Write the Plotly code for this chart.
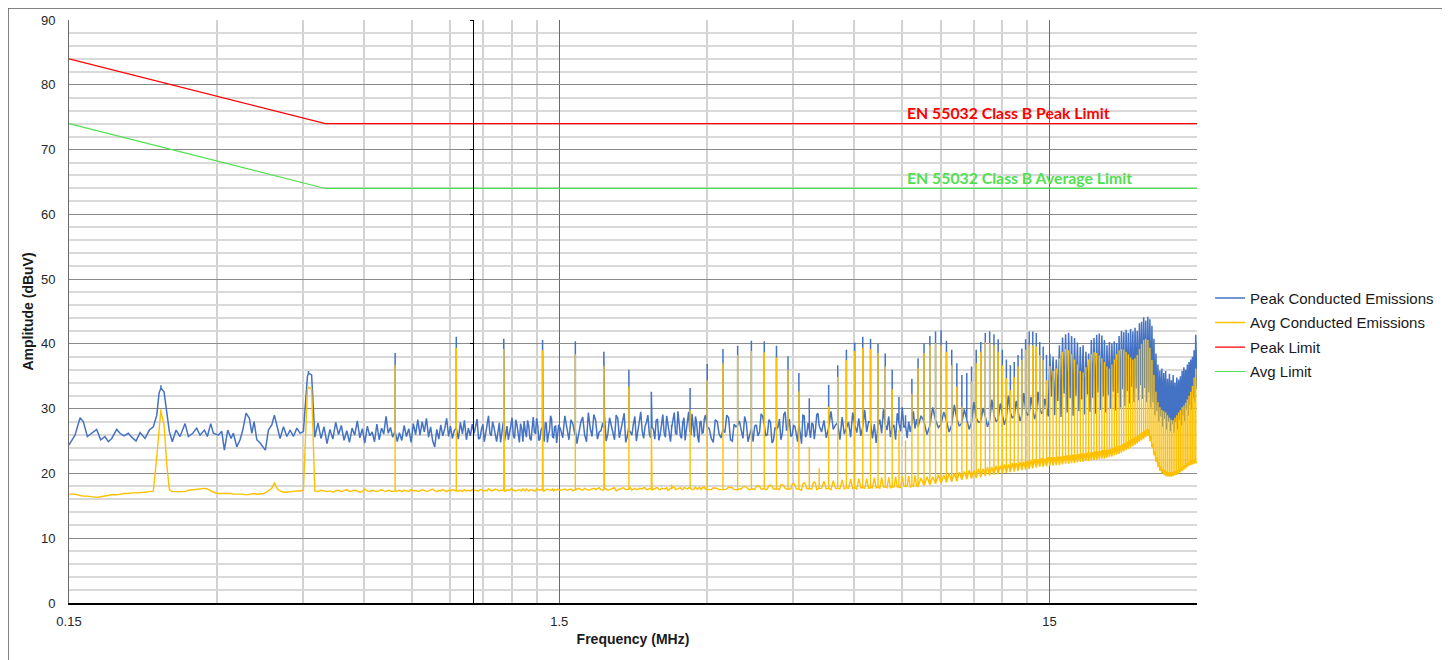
import math
import plotly.graph_objects as go

# ---------------- data ----------------
# Harmonic frequencies of the switching converter (MHz)
harm_mhz = [
    0.231, 0.462, 0.694, 0.925, 1.156, 1.387, 1.618, 1.850, 2.081, 2.312,
    2.543, 2.774, 3.006, 3.237, 3.468, 3.699, 3.930, 4.162, 4.393, 4.624,
    4.855, 5.086, 5.318, 5.549, 5.780, 6.011, 6.242, 6.474, 6.705, 6.936,
    7.167, 7.398, 7.630, 7.861, 8.092, 8.323, 8.554, 8.786, 9.017, 9.248,
    9.479, 9.710, 9.942, 10.173, 10.404, 10.635, 10.866, 11.098, 11.329, 11.560,
    11.791, 12.022, 12.254, 12.485, 12.716, 12.947, 13.178, 13.410, 13.641, 13.872,
    14.103, 14.334, 14.566, 14.797, 15.028, 15.259, 15.490, 15.722, 15.953, 16.184,
    16.415, 16.646, 16.878, 17.109, 17.340, 17.571, 17.802, 18.034, 18.265, 18.496,
    18.727, 18.958, 19.190, 19.421, 19.652, 19.883, 20.114, 20.346, 20.577, 20.808,
    21.039, 21.270, 21.502, 21.733, 21.964, 22.195, 22.426, 22.658, 22.889, 23.120,
    23.351, 23.582, 23.814, 24.045, 24.276, 24.507, 24.738, 24.970, 25.201, 25.432,
    25.663, 25.894, 26.126, 26.357, 26.588, 26.819, 27.050, 27.282, 27.513, 27.744,
    27.975, 28.206, 28.438, 28.669, 28.900, 29.131, 29.362, 29.594, 29.825,
]
# Peak detector: harmonic tops and the level at the foot of each harmonic (dBuV);
# None = the harmonic has no separate foot (dense region, skirts merge)
peak_harm_dbuv = [
    33.6, 35.8, 38.6, 41.1, 40.8, 40.6, 40.4, 38.8, 36.0, 32.6,
    27.5, 33.2, 36.9, 39.2, 39.7, 40.5, 40.4, 39.7, 38.1, 35.5,
    31.6, 28.5, 33.7, 36.7, 39.1, 40.2, 41.1, 40.8, 40.0, 38.5,
    36.0, 31.8, 29.0, 34.6, 37.8, 40.1, 41.2, 41.9, 42.1, 40.5,
    39.1, 37.0, 35.2, 35.5, 36.5, 39.1, 40.3, 41.7, 41.9, 41.5,
    40.7, 39.1, 37.6, 36.7, 37.2, 38.3, 39.3, 40.7, 41.9, 41.9,
    41.7, 40.3, 39.6, 38.3, 38.5, 38.0, 37.6, 39.8, 41.0, 41.5,
    41.7, 41.2, 40.9, 40.2, 39.5, 39.8, 38.8, 38.5, 40.6, 40.9,
    41.4, 41.6, 41.3, 40.6, 39.8, 40.3, 40.0, 40.4, 40.1, 41.2,
    42.0, 41.8, 42.2, 41.7, 42.3, 41.9, 42.5, 42.0, 43.2, 43.4,
    44.1, 43.6, 44.2, 43.8, 42.8, 40.8, 38.5, 36.8, 35.9, 36.2,
    35.5, 35.8, 34.6, 35.4, 34.4, 35.2, 34.0, 34.8, 34.5, 35.0,
    35.8, 36.4, 36.0, 36.8, 37.2, 37.6, 38.0, 39.0, 41.4,
]
peak_harm_base = [
    33.2, 35.5, 26.5, 27.0, 26.4, 27.2, 26.8, 27.0, 26.6, 27.3,
    26.9, 27.1, 27.2, 26.8, 27.4, 27.0, 27.5, 26.9, 27.3, 27.6,
    26.8, 27.4, 27.1, 27.8, 27.0, 27.5, 27.2, 27.9, 27.3, 27.6,
    27.0, 27.8, 27.4, 27.7, 27.2, 28.0, 27.4, 28.2, 27.6, 28.1,
    27.5, 28.4, 27.8, 28.3, 27.9, 28.6, 28.0, 28.8, 28.2, 29.0,
    28.4, 29.2, 28.6, 29.4, 28.8, 29.6, 29.0, 29.8, 29.1, 30.0,
    29.3, 30.1, 29.5, 30.2, None, None, None, None, None, None,
    None, None, None, None, None, None, None, None, None, None,
    None, None, None, None, None, None, None, None, None, None,
    None, None, None, None, None, None, None, None, None, None,
    None, None, None, None, None, None, None, None, None, None,
    None, None, None, None, None, None, None, None, None, None,
    None, None, None, None, None, None, None, None, None,
]
# Average detector: harmonic tops and foot levels (dBuV)
avg_harm_dbuv = [
    29.9, 33.4, 36.7, 39.4, 39.2, 39.0, 38.4, 36.6, 33.4, 27.0,
    18.3, 29.8, 34.4, 37.0, 38.3, 38.9, 38.7, 37.9, 36.0, 32.7,
    24.1, 20.8, 30.3, 34.9, 37.5, 38.9, 39.4, 39.2, 38.6, 36.5,
    33.0, 26.7, 25.1, 32.3, 36.3, 38.6, 39.8, 40.1, 39.8, 38.8,
    36.7, 33.4, 30.3, 27.8, 34.2, 37.0, 38.8, 40.2, 40.1, 39.8,
    38.8, 36.7, 34.7, 32.9, 34.9, 36.5, 37.5, 39.1, 39.9, 39.8,
    39.6, 38.3, 37.5, 34.4, 36.6, 35.8, 36.2, 37.8, 38.8, 39.2,
    39.0, 38.4, 37.6, 36.8, 35.8, 35.6, 36.4, 37.6, 38.4, 38.7,
    38.6, 38.2, 37.8, 37.2, 36.5, 36.2, 36.8, 37.6, 38.4, 39.0,
    39.2, 39.1, 38.8, 38.4, 37.9, 37.6, 37.8, 38.3, 39.2, 40.0,
    40.6, 40.8, 40.6, 39.4, 37.5, 35.2, 32.6, 31.0, 30.2, 29.8,
    29.6, 29.4, 29.0, 28.6, 28.3, 28.2, 28.6, 29.0, 29.4, 29.8,
    30.2, 30.5, 30.9, 31.4, 32.0, 32.6, 33.5, 34.8, 36.2,
]
avg_harm_base = [
    29.5, 33.3, 17.3, 17.3, 17.4, 17.4, 17.4, 17.5, 17.5, 17.5,
    17.6, 17.6, 17.5, 17.5, 17.5, 17.6, 17.6, 17.6, 17.6, 17.6,
    17.7, 17.7, 17.7, 17.7, 17.8, 17.8, 17.8, 17.8, 17.9, 17.9,
    17.9, 17.9, 18.0, 18.0, 18.0, 18.1, 18.2, 18.4, 18.5, 18.6,
    18.7, 18.8, 19.0, 19.1, 19.2, 19.3, 19.4, 19.6, 19.7, 19.8,
    19.9, 20.0, 20.1, 20.2, 20.3, 20.4, 20.5, 20.6, 20.7, 20.8,
    20.9, 21.0, 21.0, 21.1, 21.2, 21.2, 21.3, 21.3, 21.4, 21.5,
    21.5, 21.6, 21.6, 21.7, 21.8, 21.8, 21.9, 21.9, 22.0, 22.1,
    22.1, 22.2, 22.3, 22.3, 22.4, 22.5, 22.6, 22.8, 22.9, 23.0,
    23.2, 23.4, 23.6, 23.8, 24.0, 24.2, 24.4, 24.6, 24.9, 25.1,
    25.3, 25.6, 25.8, 25.0, 24.0, 22.8, 21.8, 21.0, 20.4, 20.0,
    19.8, 19.6, 19.5, 19.5, 19.5, 19.6, 19.7, 19.8, 20.0, 20.2,
    20.4, 20.6, 20.8, 21.0, 21.2, 21.3, 21.4, 21.5, 21.6,
]

# Emission floor between harmonics (MHz); points are sorted by frequency when drawn
floor_mhz = [
    0.150, 0.1543, 0.1580, 0.1604, 0.1635, 0.1669, 0.1708, 0.1741, 0.1776, 0.1804,
    0.1833, 0.1877, 0.1906, 0.1942, 0.1982, 0.2014, 0.2055, 0.2094, 0.2144, 0.2188,
    0.2229, 0.2265, 0.2290, 0.2344, 0.2374, 0.2403, 0.2437, 0.2480, 0.2527, 0.2587,
    0.2628, 0.2683, 0.2733, 0.2776, 0.2833, 0.2873, 0.2919, 0.2955, 0.3025, 0.3074,
    0.3112, 0.3162, 0.3211, 0.3246, 0.3299, 0.3350, 0.3393, 0.3446, 0.3500, 0.3540,
    0.3578, 0.3624, 0.3681, 0.3738, 0.3773, 0.3827, 0.3889, 0.3936, 0.3992, 0.4043,
    0.4107, 0.4173, 0.4238, 0.4304, 0.4374, 0.4442, 0.4511, 0.4597, 0.4688,
    0.476, 0.483, 0.490, 0.497, 0.504, 0.511, 0.518, 0.525, 0.532, 0.539,
    0.546, 0.553, 0.560, 0.567, 0.574, 0.581, 0.588, 0.595, 0.602, 0.609,
    0.616, 0.623, 0.630, 0.637, 0.644, 0.651, 0.658, 0.665, 0.672, 0.679,
    0.686, 0.701, 0.708,
    0.716, 0.724, 0.732, 0.740, 0.748, 0.756, 0.764, 0.772, 0.780, 0.788,
    0.796, 0.804, 0.812, 0.820, 0.828, 0.836, 0.844, 0.852, 0.860, 0.868,
    0.876, 0.884, 0.892, 0.900, 0.908, 0.916,
    0.934, 0.943, 0.952, 0.961, 0.970, 0.979, 0.988, 0.997,
    1.006, 1.020, 1.034, 1.048, 1.062, 1.076, 1.090, 1.104, 1.118, 1.132,
    1.146, 1.160, 1.174, 1.188, 1.202, 1.216, 1.230, 1.244, 1.258, 1.272,
    1.286, 1.300, 1.314, 1.328, 1.342, 1.356, 1.370, 1.384, 1.398, 1.412,
    1.426, 1.440, 1.454, 1.468, 1.482, 1.496,
    1.51, 1.54, 1.57, 1.60, 1.63, 1.66, 1.69, 1.72, 1.75, 1.78,
    1.81, 1.84, 1.87, 1.90, 1.93, 1.96, 1.99, 2.02, 2.05, 2.08,
    2.11, 2.14, 2.17, 2.20, 2.23, 2.26, 2.29, 2.32, 2.35, 2.38,
    2.41, 2.44, 2.47, 2.50, 2.53, 2.56, 2.59, 2.62, 2.65, 2.68,
    2.71, 2.74, 2.77, 2.80, 2.83, 2.86, 2.89, 2.92, 2.95, 2.98,
    3.064, 3.122, 3.179, 3.295, 3.353, 3.410, 3.526, 3.584, 3.641,
    3.757, 3.815, 3.872, 3.988, 4.046, 4.103, 4.220, 4.278, 4.335,
    4.451, 4.509, 4.566, 4.682, 4.740, 4.797, 4.913, 4.971, 5.028,
    5.144, 5.202, 5.259, 5.376, 5.434, 5.491, 5.607, 5.665, 5.722,
    5.838, 5.896, 5.953, 6.069, 6.127, 6.184, 6.300, 6.358, 6.415,
    6.532, 6.590, 6.647, 6.763, 6.821, 6.878, 6.994, 7.052, 7.109,
    7.225, 7.283, 7.340, 7.456, 7.514, 7.571, 7.688, 7.746, 7.803,
    7.919, 7.977, 8.034,
    8.208, 8.439, 8.670, 8.902, 9.133, 9.364, 9.595, 9.826, 10.058, 10.289,
    10.520, 10.751, 10.982, 11.214, 11.445, 11.676, 11.907, 12.138, 12.370, 12.601,
    12.832, 13.063, 13.294, 13.526, 13.757, 13.988, 14.219, 14.450, 14.682, 14.913,
    15.144, 15.375, 15.606, 15.838, 16.069, 16.300, 16.531, 16.762, 16.994, 17.225,
    17.456, 17.687, 17.918, 18.150, 18.381, 18.612, 18.843, 19.074, 19.306, 19.537,
    19.768, 19.999, 20.230, 20.462, 20.693, 20.924, 21.155, 21.386, 21.618, 21.849,
    22.080, 22.311, 22.542, 22.774, 23.005, 23.236, 23.467, 23.698, 23.930, 24.161,
    24.392, 24.623, 24.854, 25.086, 25.317, 25.548, 25.779, 26.010, 26.242, 26.473,
    26.704, 26.935, 27.166, 27.398, 27.629, 27.860, 28.091, 28.322, 28.554, 28.785,
    29.016, 29.247, 29.478, 29.710, 30.0,
    # finer readings, 1 - 5 MHz
    1.013, 1.027, 1.041, 1.055, 1.069, 1.083, 1.097, 1.111, 1.125, 1.139,
    1.153, 1.167, 1.181, 1.195, 1.209, 1.223, 1.237, 1.251, 1.265, 1.279,
    1.293, 1.307, 1.321, 1.335, 1.349, 1.363, 1.377, 1.391, 1.405, 1.419,
    1.433, 1.447, 1.461, 1.475, 1.489,
    1.525, 1.555, 1.585, 1.615, 1.645, 1.675, 1.705, 1.735, 1.765, 1.795,
    1.825, 1.855, 1.885, 1.915, 1.945, 1.975, 2.005, 2.035, 2.065, 2.095,
    2.125, 2.155, 2.185, 2.215, 2.245, 2.275, 2.305, 2.335, 2.365, 2.395,
    2.425, 2.455, 2.485, 2.515, 2.545, 2.575, 2.605, 2.635, 2.665, 2.695,
    2.725, 2.755, 2.785, 2.815, 2.845, 2.875, 2.905, 2.935, 2.965,
    3.035, 3.093, 3.151, 3.208, 3.266, 3.324, 3.382, 3.439,
    3.497, 3.555, 3.613, 3.670, 3.728, 3.786, 3.844, 3.901,
    3.959, 4.017, 4.075, 4.132, 4.191, 4.249, 4.307, 4.364,
    4.422, 4.480, 4.538, 4.595, 4.653, 4.711, 4.769, 4.826,
    4.884, 4.942, 5.000, 5.057,
]
peak_floor_dbuv = [
    24.4, 25.9, 28.6, 28.0, 25.7, 26.2, 26.8, 25.2, 25.7, 24.9,
    25.4, 26.8, 26.2, 25.8, 26.2, 25.6, 25.0, 26.3, 25.4, 26.7,
    27.2, 29.0, 32.4, 32.6, 29.3, 26.5, 24.9, 26.7, 25.7, 27.7,
    25.7, 26.2, 27.0, 25.9, 26.7, 25.7, 27.7, 26.2, 25.9, 26.5,
    23.6, 26.7, 25.4, 26.2, 24.1, 25.2, 26.7, 29.3, 28.5, 26.2,
    28.0, 25.2, 24.7, 24.1, 23.6, 26.7, 27.5, 29.0, 27.2, 25.4,
    27.2, 25.7, 26.7, 25.7, 27.0, 26.2, 26.5, 35.0, 35.2,
    25.6, 27.8, 25.4, 27.2, 24.6, 26.8, 25.3, 27.9, 26.0, 27.4,
    25.1, 26.6, 24.8, 27.0, 25.9, 28.1, 25.5, 26.9, 24.7, 27.3,
    25.8, 26.4, 24.9, 27.6, 25.2, 27.0, 26.1, 28.8, 26.2, 27.1,
    25.6, 24.9, 26.3,
    25.1, 27.4, 25.7, 26.9, 24.8, 27.7, 26.0, 28.3, 25.9, 28.0,
    26.4, 28.5, 25.6, 27.2, 25.0, 24.1, 26.8, 25.3, 27.5, 25.8,
    26.9, 28.5, 25.7, 27.3, 25.4, 26.6,
    25.3, 27.9, 26.1, 28.2, 25.2, 27.0, 25.8, 27.6,
    26.2, 28.4, 25.5, 27.6, 26.0, 28.9, 25.8, 27.1, 24.9, 27.8,
    26.3, 25.0, 27.3, 26.1, 28.6, 25.4, 27.5, 24.8, 26.9, 28.1,
    25.6, 27.3, 25.1, 28.7, 26.2, 27.4, 25.3, 27.0, 24.9, 27.7,
    26.0, 28.9, 25.6, 27.2, 24.7, 27.5,
    26.8, 28.9, 25.2, 27.6, 24.6, 27.9, 26.0, 29.4, 25.7, 28.2,
    26.4, 27.8, 25.0, 28.6, 26.3, 29.0, 25.5, 27.7, 24.8, 27.2,
    25.9, 28.8, 26.6, 29.5, 25.4, 27.9, 26.1, 27.2, 25.3, 28.4,
    26.0, 29.1, 25.6, 27.7, 24.9, 28.3, 26.2, 29.6, 25.8, 27.9,
    25.1, 28.5, 26.4, 29.2, 25.6, 27.8, 24.8, 28.1, 26.3, 29.0,
    25.4, 28.3, 26.1, 29.0, 25.2, 27.6, 26.5, 28.8, 24.9,
    27.3, 25.8, 29.2, 26.0, 27.9, 25.1, 28.4, 26.2, 29.5,
    25.7, 27.4, 26.3, 24.6, 28.9, 26.0, 27.8, 25.3, 29.1,
    26.4, 28.2, 25.5, 29.6, 26.8, 27.5, 25.2, 28.7, 26.1,
    27.9, 25.6, 29.4, 26.3, 28.5, 25.8, 29.8, 26.4, 28.0,
    25.4, 27.6, 24.7, 28.3, 26.2, 29.9, 26.7, 28.8, 25.6,
    27.5, 25.2, 29.3, 26.5, 30.2, 27.1, 25.5, 28.0, 26.4,
    29.6, 26.9, 28.4,
    28.9, 26.0, 30.2, 27.1, 29.5, 26.4, 30.6, 27.3, 29.9, 26.8,
    31.0, 27.9, 30.1, 27.2, 31.4, 28.0, 30.8, 27.5, 32.0, 28.6,
    31.2, 28.1, 32.4, 29.0, 31.8, 28.4, 32.6, 29.3, 31.5, 28.8,
    31.9, 29.0, 31.2, 28.7, 32.3, 29.4, 31.6, 28.9, 32.0, 29.6,
    31.4, 29.1, 32.2, 29.5, 31.7, 29.2, 32.5, 29.8, 31.9, 29.4,
    32.1, 30.0, 32.6, 29.7, 32.4, 30.2, 33.0, 30.4, 32.7, 30.8,
    33.4, 31.0, 33.1, 31.3, 33.6, 31.5, 33.2, 31.0, 32.5, 30.2,
    31.0, 29.0, 29.6, 28.0, 28.8, 27.2, 28.4, 26.8, 28.0, 26.5,
    27.6, 26.3, 27.9, 26.8, 28.3, 27.4, 29.0, 28.1, 29.8, 28.9,
    30.6, 29.8, 31.6, 31.0, 33.0,
    27.1, 25.3, 26.8, 24.9, 27.5, 26.2, 28.0, 25.6, 26.4, 24.8,
    27.9, 26.0, 25.2, 27.4, 25.9, 28.3, 26.1, 27.7, 24.9, 26.5,
    28.2, 25.4, 27.0, 26.3, 28.5, 25.1, 26.7, 25.8, 27.9, 24.8,
    26.6, 28.4, 25.5, 27.3, 26.0,
    25.5, 26.9, 28.3, 25.9, 26.2, 28.7, 24.9, 27.0, 29.1, 25.3,
    26.6, 28.9, 26.1, 27.4, 25.2, 28.5, 26.8, 29.3, 25.7, 26.4,
    27.6, 25.0, 28.7, 26.5, 27.3, 29.0, 25.5, 26.8, 28.2, 25.1,
    27.5, 26.3, 28.9, 25.8, 27.1, 29.4, 26.0, 27.3, 25.4, 28.6,
    26.7, 29.5, 25.9, 27.2, 28.8, 25.6, 27.9, 26.2, 28.4,
    26.9, 24.8, 28.0, 25.5, 26.3, 28.6, 25.0, 27.2,
    28.1, 25.4, 27.7, 26.0, 24.9, 27.5, 26.4, 28.8,
    25.8, 28.3, 24.7, 27.0, 27.1, 25.2, 29.1, 26.6,
    28.4, 25.9, 27.3, 24.9, 26.2, 29.0, 25.6, 27.8,
    25.5, 27.6, 26.9, 29.3,
]
avg_floor_dbuv = [
    16.8, 16.8, 16.6, 16.5, 16.5, 16.4, 16.3, 16.4, 16.5, 16.6,
    16.7, 16.7, 16.8, 16.9, 16.9, 17.0, 17.0, 17.0, 17.1, 17.2,
    17.3, 22.5, 27.0, 27.5, 21.5, 17.5, 17.2, 17.2, 17.2, 17.2,
    17.4, 17.5, 17.5, 17.6, 17.7, 17.6, 17.3, 17.1, 16.9, 16.9,
    16.9, 17.0, 16.9, 16.8, 16.8, 16.9, 16.8, 16.7, 16.8, 16.9,
    16.9, 16.8, 16.8, 16.9, 17.0, 17.3, 17.7, 18.6, 17.6, 17.3,
    17.1, 17.1, 17.2, 17.2, 17.3, 17.3, 17.4, 33.0, 33.0,
    17.3, 17.2, 17.4, 17.3, 17.2, 17.3, 17.1, 17.3, 17.4, 17.2,
    17.3, 17.5, 17.2, 17.3, 17.4, 17.3, 17.1, 17.2, 17.6, 17.3,
    17.2, 17.4, 17.3, 17.2, 17.3, 17.5, 17.3, 17.2, 17.4, 17.3,
    17.2, 17.3, 17.4,
    17.2, 17.4, 17.3, 17.2, 17.5, 17.3, 17.4, 17.2, 17.3, 17.5,
    17.4, 17.2, 17.3, 17.4, 17.6, 17.3, 17.2, 17.4, 17.3, 17.5,
    17.3, 17.2, 17.4, 17.3, 17.5, 17.4,
    17.3, 17.4, 17.2, 17.5, 17.3, 17.4, 17.3, 17.5,
    17.4, 17.3, 17.5, 17.3, 17.4, 17.6, 17.3, 17.4, 17.5, 17.3,
    17.4, 17.3, 17.5, 17.4, 17.6, 17.3, 17.4, 17.5, 17.3, 17.4,
    17.6, 17.3, 17.5, 17.4, 17.3, 17.5, 17.4, 17.6, 17.3, 17.4,
    17.5, 17.4, 17.6, 17.5, 17.4, 17.5,
    17.4, 17.6, 17.5, 17.3, 17.6, 17.5, 17.7, 17.4, 17.6, 17.5,
    17.8, 17.4, 17.6, 17.5, 17.7, 17.3, 17.6, 17.8, 17.5, 17.6,
    17.4, 17.7, 17.5, 17.6, 17.8, 17.5, 17.7, 17.4, 17.6, 17.8,
    17.5, 17.7, 17.6, 17.4, 17.7, 17.9, 17.5, 17.6, 17.8, 17.5,
    17.7, 17.6, 17.9, 17.5, 17.7, 17.6, 17.8, 17.5, 17.9, 17.6,
    17.5, 17.8, 17.5, 17.6, 17.9, 17.5, 17.6, 18.0, 17.6,
    17.5, 18.1, 17.6, 17.6, 18.2, 17.6, 17.5, 18.3, 17.7,
    17.6, 18.5, 17.6, 17.4, 18.6, 17.7, 17.6, 18.7, 17.5,
    17.7, 18.8, 17.6, 17.5, 18.9, 17.7, 17.6, 19.0, 17.6,
    17.7, 19.1, 17.7, 17.6, 19.2, 17.8, 17.7, 19.2, 17.7,
    17.8, 19.3, 17.8, 17.7, 19.4, 17.9, 17.8, 19.4, 17.8,
    17.9, 19.5, 17.9, 17.8, 19.6, 18.0, 18.0, 19.6, 17.9,
    18.0, 19.7, 18.1,
    19.3, 19.5, 19.5, 19.8, 19.8, 20.0, 20.0, 20.2, 20.3, 20.5,
    20.5, 20.7, 20.7, 21.0, 21.0, 21.2, 21.2, 21.4, 21.4, 21.6,
    21.6, 21.8, 21.8, 22.0, 22.0, 22.2, 22.2, 22.4, 22.3, 22.5,
    22.5, 22.5, 22.6, 22.6, 22.7, 22.8, 22.8, 22.9, 22.9, 23.0,
    23.1, 23.1, 23.2, 23.2, 23.3, 23.4, 23.4, 23.5, 23.6, 23.6,
    23.7, 23.8, 23.9, 24.1, 24.2, 24.3, 24.5, 24.7, 24.9, 25.1,
    25.3, 25.5, 25.7, 25.9, 26.2, 26.4, 26.6, 26.8, 26.8, 25.8,
    24.6, 23.4, 22.5, 21.7, 21.1, 20.7, 20.5, 20.3, 20.2, 20.2,
    20.2, 20.3, 20.4, 20.5, 20.7, 20.9, 21.1, 21.3, 21.5, 21.7,
    21.9, 22.0, 22.1, 22.2, 21.8,
    17.4, 17.3, 17.5, 17.4, 17.3, 17.5, 17.4, 17.6, 17.3, 17.4,
    17.5, 17.3, 17.4, 17.6, 17.4, 17.3, 17.5, 17.4, 17.6, 17.3,
    17.4, 17.5, 17.4, 17.3, 17.6, 17.4, 17.5, 17.3, 17.4, 17.6,
    17.5, 17.4, 17.3, 17.5, 17.6,
    17.5, 17.4, 17.6, 17.5, 17.7, 17.4, 17.6, 17.5, 17.7, 17.6,
    17.5, 17.7, 17.4, 17.6, 17.8, 17.5, 17.6, 17.7, 17.5, 17.8,
    17.6, 17.5, 17.7, 17.6, 17.8, 17.5, 17.7, 17.6, 17.8, 17.5,
    17.7, 17.6, 17.8, 17.5, 17.7, 17.9, 17.6, 17.7, 17.5, 17.8,
    17.6, 17.8, 17.7, 17.5, 17.9, 17.6, 17.8, 17.7, 17.9,
    17.5, 17.8, 17.7, 17.5, 17.5, 17.9, 17.8, 17.5,
    17.6, 17.9, 17.9, 17.5, 17.6, 18.0, 18.0, 17.6,
    17.5, 18.1, 18.0, 17.6, 17.6, 18.2, 18.1, 17.6,
    17.6, 18.3, 18.2, 17.6, 17.5, 18.4, 18.3, 17.6,
    17.6, 18.5, 18.4, 17.6,
]

# EN 55032 Class B limit lines
limit_mhz = [0.15, 0.5, 30.0]
peak_limit_dbuv = [84.0, 74.0, 74.0]
avg_limit_dbuv = [74.0, 64.0, 64.0]

x_ticks = [0.15, 1.5, 15]
x_minor = [0.3, 0.45, 0.6, 0.75, 0.9, 1.05, 1.2, 1.35,
           3, 4.5, 6, 7.5, 9, 10.5, 12, 13.5, 30]

assert len(harm_mhz) == len(peak_harm_dbuv) == len(peak_harm_base) == len(avg_harm_dbuv) == len(avg_harm_base)
assert len(floor_mhz) == len(peak_floor_dbuv) == len(avg_floor_dbuv)


def spectrum(floor_f, floor_v, h_f, h_base, h_top):
    pts = list(zip(floor_f, floor_v))
    for f, b, t in zip(h_f, h_base, h_top):
        if b is None:
            pts.append((f, t))
        else:
            pts += [(f, b), (f, t), (f, b)]
    pts.sort(key=lambda p: p[0])
    return [p[0] for p in pts], [p[1] for p in pts]


px, py = spectrum(floor_mhz, peak_floor_dbuv, harm_mhz, peak_harm_base, peak_harm_dbuv)
ax, ay = spectrum(floor_mhz, avg_floor_dbuv, harm_mhz, avg_harm_base, avg_harm_dbuv)

BLUE = "#4472C4"
YELLOW = "#FFC000"
RED = "#FF0000"
GREEN = "#4FE04F"
FONT = "Liberation Sans, Arial, sans-serif"

fig = go.Figure()
fig.add_trace(go.Scatter(x=px, y=py, mode="lines", name="Peak Conducted Emissions",
                         line=dict(color=BLUE, width=1.5), legendgroup="a"))
fig.add_trace(go.Scatter(x=ax, y=ay, mode="lines", name="Avg Conducted Emissions",
                         line=dict(color=YELLOW, width=1.4), legendgroup="b"))
fig.add_trace(go.Scatter(x=limit_mhz, y=peak_limit_dbuv, mode="lines", name="Peak Limit",
                         line=dict(color=RED, width=1.3), legendgroup="c"))
fig.add_trace(go.Scatter(x=limit_mhz, y=avg_limit_dbuv, mode="lines", name="Avg Limit",
                         line=dict(color=GREEN, width=1.1), legendgroup="d", yaxis="y2"))

x_lo, x_hi = math.log10(0.15), math.log10(30.0)
label_freq_mhz = 7.6

# plot area in figure pixels: left 61, top 12, width 1128, height 583
fig.update_layout(
    width=1450, height=660,
    margin=dict(l=61, r=261, t=12, b=65, autoexpand=False),
    paper_bgcolor="white", plot_bgcolor="white",
    font=dict(family=FONT, size=13, color="#262626"),
    xaxis=dict(
        type="log", range=[x_lo, x_hi], automargin=False,
        tickmode="array", tickvals=x_ticks, ticktext=["0.15", "1.5", "15"],
        showgrid=True, gridcolor="#6a6a6a", gridwidth=1,
        minor=dict(tickmode="array", tickvals=x_minor, showgrid=True,
                   gridcolor="#d2d2d2", gridwidth=1.5, ticks=""),
        showline=True, linecolor="black", linewidth=1.5, zeroline=False,
        ticks="", ticklabelstandoff=6,
        tickfont=dict(family=FONT, size=13, color="#262626"),
        title=dict(text="<b>Frequency (MHz)</b>", standoff=6,
                   font=dict(family=FONT, size=14, color="#1a1a1a")),
    ),
    yaxis=dict(
        range=[0, 90], tickmode="linear", tick0=0, dtick=10, automargin=False,
        showgrid=True, gridcolor="#8a8a8a", gridwidth=1,
        minor=dict(dtick=2, showgrid=True, gridcolor="#d9d9d9", gridwidth=1.5, ticks=""),
        showline=True, linecolor="#6a6a6a", linewidth=1, zeroline=False,
        ticks="", ticklabelstandoff=10,
        tickfont=dict(family=FONT, size=13, color="#262626"),
        title=dict(text="<b>Amplitude (dBuV)</b>", standoff=4,
                   font=dict(family=FONT, size=14, color="#1a1a1a")),
    ),
    yaxis2=dict(
        overlaying="y", anchor="free", side="left", automargin=False,
        position=(math.log10(1.0) - x_lo) / (x_hi - x_lo),
        range=[0, 90], dtick=10, showgrid=False, zeroline=False,
        showline=True, linecolor="black", linewidth=1,
        ticks="outside", ticklen=3, tickcolor="black", showticklabels=False,
    ),
    legend=dict(
        x=1.0116, y=0.46, xanchor="left", yanchor="middle",
        font=dict(family=FONT, size=15, color="#1a1a1a"),
        tracegroupgap=2, bgcolor="rgba(0,0,0,0)",
    ),
    showlegend=True,
)

fig.add_annotation(x=math.log10(label_freq_mhz), y=peak_limit_dbuv[-1], yshift=11,
                   text="<b>EN 55032 Class B Peak Limit</b>", showarrow=False,
                   xanchor="left", yanchor="middle",
                   font=dict(family="Lato, Open Sans, sans-serif", size=15.8, color=RED))
fig.add_annotation(x=math.log10(label_freq_mhz), y=avg_limit_dbuv[-1], yshift=11,
                   text="<b>EN 55032 Class B Average Limit</b>", showarrow=False,
                   xanchor="left", yanchor="middle",
                   font=dict(family="Lato, Open Sans, sans-serif", size=15.8, color=GREEN))

# outer chart frame
fig.add_shape(type="rect", xref="paper", yref="paper",
              x0=(0 - 61) / 1128, x1=(1438 - 61) / 1128,
              y0=(595 - 700) / 583, y1=(595 - 0) / 583,
              line=dict(color="#595959", width=1.5), layer="below")

fig.write_html("out.html")
